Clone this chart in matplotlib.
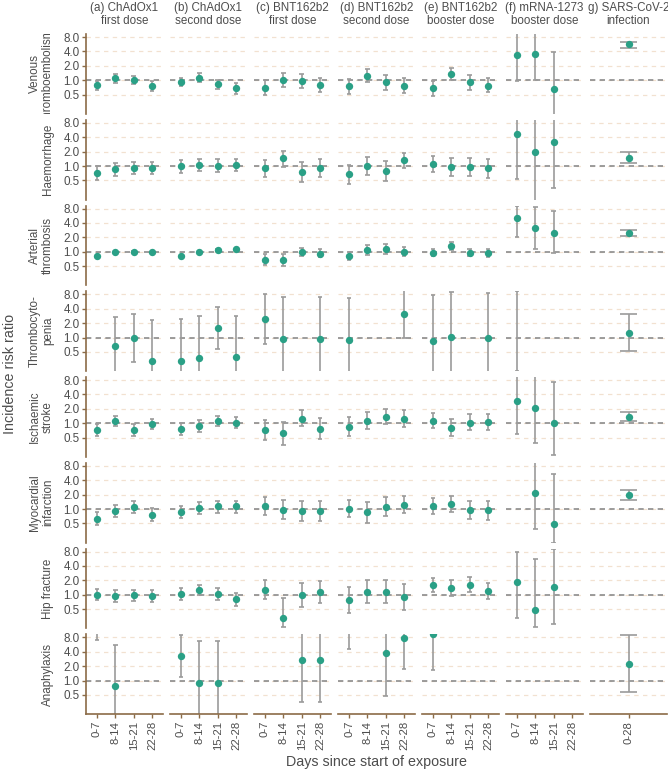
import matplotlib
matplotlib.use("Agg")
import matplotlib.pyplot as plt
import numpy as np

plt.rcParams["font.family"] = ["Liberation Sans", "DejaVu Sans"]

nan = np.nan

OUTCOMES = [
    "Venous\nthromboembolism",
    "Haemorrhage",
    "Arterial\nthrombosis",
    "Thrombocyto-\npenia",
    "Ischaemic\nstroke",
    "Myocardial\ninfarction",
    "Hip fracture",
    "Anaphylaxis",
]
EXPOSURES = [
    "(a) ChAdOx1\nfirst dose",
    "(b) ChAdOx1\nsecond dose",
    "(c) BNT162b2\nfirst dose",
    "(d) BNT162b2\nsecond dose",
    "(e) BNT162b2\nbooster dose",
    "(f) mRNA-1273\nbooster dose",
    "g) SARS-CoV-2\ninfection",
]
WINDOWS = ["0-7", "8-14", "15-21", "22-28"]
INFECTION_WINDOWS = ["0-28"]

# each list: 6 vaccine exposures x 4 windows, then infection 0-28
VTE_EST = [0.78, 1.10, 1.02, 0.76, 0.92, 1.14, 0.84, 0.69, 0.69, 1.00, 0.95, 0.78,
           0.75, 1.25, 0.91, 0.77, 0.69, 1.38, 0.91, 0.77, 3.35, 3.57, 0.66, nan, 5.6]
VTE_LO = [0.62, 0.88, 0.82, 0.60, 0.75, 0.91, 0.66, 0.52, 0.49, 0.72, 0.68, 0.56,
          0.52, 0.91, 0.64, 0.54, 0.48, 1.03, 0.64, 0.56, 0.97, 1.00, 0.15, nan, 4.76]
VTE_HI = [0.97, 1.34, 1.25, 0.95, 1.14, 1.40, 1.03, 0.88, 1.00, 1.40, 1.34, 1.14,
          1.05, 1.73, 1.29, 1.14, 0.98, 1.80, 1.29, 1.14, 20.0, 20.0, 3.9, nan, 6.4]

HAEM_EST = [0.70, 0.85, 0.89, 0.89, 0.98, 1.03, 1.02, 1.03, 0.89, 1.45, 0.75, 0.92,
            0.67, 1.00, 0.79, 1.32, 1.10, 0.97, 0.94, 0.89, 4.62, 1.97, 3.24, nan, 1.5]
HAEM_LO = [0.52, 0.63, 0.67, 0.67, 0.72, 0.77, 0.76, 0.77, 0.59, 0.97, 0.46, 0.60,
           0.42, 0.65, 0.48, 0.91, 0.75, 0.63, 0.62, 0.57, 0.53, 0.12, 0.34, nan, 1.16]
HAEM_HI = [1.00, 1.14, 1.19, 1.19, 1.31, 1.38, 1.38, 1.38, 1.36, 2.07, 1.19, 1.40,
           1.07, 1.57, 1.25, 1.90, 1.65, 1.45, 1.45, 1.40, 20.0, 20.0, 20.0, nan, 1.94]

ART_EST = [0.82, 1.00, 1.00, 0.98, 0.82, 0.98, 1.07, 1.14, 0.68, 0.67, 0.98, 0.92,
           0.82, 1.08, 1.14, 1.00, 0.95, 1.34, 0.95, 0.94, 5.1, 3.09, 2.43, nan, 2.43]
ART_LO = [0.78, 0.96, 0.96, 0.94, 0.78, 0.94, 1.03, 1.10, 0.52, 0.50, 0.80, 0.76,
          0.66, 0.86, 0.89, 0.80, 0.80, 1.10, 0.80, 0.77, 2.07, 1.14, 0.94, nan, 2.17]
ART_HI = [0.87, 1.05, 1.05, 1.02, 0.87, 1.02, 1.12, 1.19, 0.88, 0.88, 1.21, 1.14,
          1.00, 1.36, 1.43, 1.25, 1.14, 1.57, 1.14, 1.14, 9.0, 8.7, 7.0, nan, 2.9]

THROMB_EST = [nan, 0.65, 0.97, 0.33, 0.33, 0.38, 1.57, 0.39, 2.43, 0.92, nan, 0.94,
              0.89, nan, nan, 3.14, 0.86, 1.03, nan, 1.00, nan, nan, nan, nan, 1.27]
THROMB_LO = [nan, 0.05, 0.31, 0.05, 0.05, 0.05, 0.57, 0.05, 0.75, 0.05, nan, 0.05,
             0.05, nan, nan, 0.97, 0.05, 0.05, nan, 0.05, 0.2, nan, nan, nan, 0.53]
THROMB_HI = [nan, 2.67, 3.14, 2.35, 2.39, 2.76, 4.27, 2.80, 8.0, 6.9, nan, 7.0,
             6.7, nan, nan, 20.0, 7.6, 9.1, nan, 8.7, 9.25, nan, nan, nan, 3.04]

STROKE_EST = [0.72, 1.10, 0.72, 0.98, 0.75, 0.86, 1.12, 1.02, 0.72, 0.62, 1.25, 0.76,
              0.84, 1.14, 1.38, 1.23, 1.14, 0.80, 1.02, 1.05, 2.85, 2.10, 1.03, nan, 1.38]
STROKE_LO = [0.55, 0.86, 0.55, 0.76, 0.58, 0.66, 0.86, 0.79, 0.45, 0.36, 0.86, 0.47,
             0.53, 0.75, 0.95, 0.84, 0.80, 0.53, 0.71, 0.72, 0.59, 0.39, 0.22, nan, 1.14]
STROKE_HI = [0.97, 1.40, 0.97, 1.25, 1.00, 1.16, 1.45, 1.32, 1.19, 1.07, 1.87, 1.27,
             1.34, 1.73, 2.03, 1.87, 1.62, 1.25, 1.55, 1.57, 20.0, 20.0, 7.4, nan, 1.7]

MI_EST = [0.63, 0.92, 1.12, 0.76, 0.86, 1.05, 1.14, 1.14, 1.14, 0.97, 0.92, 0.92,
          1.02, 0.85, 1.12, 1.23, 1.16, 1.27, 0.95, 0.94, nan, 2.17, 0.49, nan, 1.94]
MI_LO = [0.46, 0.69, 0.84, 0.57, 0.65, 0.77, 0.84, 0.84, 0.76, 0.61, 0.57, 0.57,
         0.67, 0.51, 0.72, 0.81, 0.80, 0.87, 0.61, 0.60, nan, 0.39, 0.20, nan, 1.52]
MI_HI = [0.87, 1.23, 1.47, 1.05, 1.16, 1.38, 1.50, 1.50, 1.76, 1.57, 1.50, 1.50,
         1.57, 1.40, 1.79, 1.90, 1.73, 1.84, 1.47, 1.45, nan, 20.0, 5.43, nan, 2.47]

HIP_EST = [1.00, 0.95, 0.97, 0.95, 1.03, 1.25, 1.05, 0.80, 1.27, 0.33, 0.98, 1.14,
           0.77, 1.17, 1.17, 0.89, 1.60, 1.40, 1.60, 1.19, 1.81, 0.48, 1.47, nan, nan]
HIP_LO = [0.77, 0.71, 0.74, 0.71, 0.79, 0.98, 0.79, 0.59, 0.80, 0.21, 0.56, 0.68,
          0.42, 0.68, 0.68, 0.48, 1.16, 0.95, 1.12, 0.80, 0.33, 0.21, 0.24, nan, nan]
HIP_HI = [1.31, 1.25, 1.27, 1.25, 1.36, 1.62, 1.38, 1.08, 2.07, 0.87, 1.73, 1.94,
          1.47, 2.03, 2.03, 1.70, 2.24, 2.03, 2.30, 1.79, 8.0, 5.7, 9.0, nan, nan]

ANA_EST = [20.0, 0.76, nan, nan, 3.19, 0.89, 0.89, nan, nan, nan, 2.72, 2.72,
           20.0, nan, 3.81, 7.76, 9.4, nan, nan, nan, nan, nan, nan, nan, 2.24]
ANA_LO = [6.9, 0.05, nan, nan, 1.17, 0.05, 0.05, nan, nan, nan, 0.35, 0.36,
          4.55, nan, 0.48, 1.70, 1.62, nan, nan, nan, nan, nan, nan, nan, 0.58]
ANA_HI = [60.0, 5.6, nan, nan, 8.9, 6.7, 6.7, nan, nan, nan, 40.0, 40.0,
          60.0, nan, 40.0, 40.0, 40.0, nan, nan, nan, nan, nan, nan, nan, 8.95]

ROWS = [
    (VTE_EST, VTE_LO, VTE_HI),
    (HAEM_EST, HAEM_LO, HAEM_HI),
    (ART_EST, ART_LO, ART_HI),
    (THROMB_EST, THROMB_LO, THROMB_HI),
    (STROKE_EST, STROKE_LO, STROKE_HI),
    (MI_EST, MI_LO, MI_HI),
    (HIP_EST, HIP_LO, HIP_HI),
    (ANA_EST, ANA_LO, ANA_HI),
]

Y_TICKS = [0.5, 1.0, 2.0, 4.0, 8.0]

POINT = "#2AA086"
BAR = "#9B9B9B"
AXIS = "#8B6B47"
GRID = "#F2E1D0"
REF = "#8C8C8C"
TEXT = "#4D4D4D"

W, H = 668, 772
fig = plt.figure(figsize=(W / 100, H / 100), dpi=100)


def px_box(x0, top, w, h):
    return [x0 / W, 1 - (top + h) / H, w / W, h / H]


col_w, col_pitch, col_x0 = 77, 84, 86
row_h, row_pitch, row_y0 = 79.75, 85.75, 34

for i, (est_all, lo_all, hi_all) in enumerate(ROWS):
    top = row_y0 + i * row_pitch
    for j in range(len(EXPOSURES)):
        ax = fig.add_axes(px_box(col_x0 + j * col_pitch, top, col_w, row_h))
        if j < 6:
            cats = WINDOWS
            sl = slice(4 * j, 4 * j + 4)
        else:
            cats = INFECTION_WINDOWS
            sl = slice(24, 25)
        x = np.arange(1, len(cats) + 1)
        est = np.array(est_all[sl], dtype=float)
        lo = np.array(lo_all[sl], dtype=float)
        hi = np.array(hi_all[sl], dtype=float)

        ax.set_yscale("log")
        ax.set_ylim(0.2, 9.25)
        ax.set_xlim(0.4, len(cats) + 0.6)

        for v in Y_TICKS:
            ax.axhline(v, color=GRID, lw=0.9, ls=(0, (3.5, 3.5)), zorder=0)
        ax.axhline(1.0, color=REF, lw=1.2, ls=(0, (3.2, 2.6)), zorder=1)

        ok = ~np.isnan(lo)
        ax.vlines(x[ok], lo[ok], hi[ok], color=BAR, lw=1.2, zorder=2)
        ax.hlines(lo[ok], x[ok] - 0.125, x[ok] + 0.125, color=BAR, lw=1.2, zorder=2)
        ax.hlines(hi[ok], x[ok] - 0.125, x[ok] + 0.125, color=BAR, lw=1.2, zorder=2)
        ax.plot(x, est, "o", color=POINT, ms=5.3, mew=0, zorder=3)

        for s in ax.spines.values():
            s.set_visible(False)
        ax.minorticks_off()
        ax.set_yticks(Y_TICKS)
        ax.set_xticks(x)
        if j == 0:
            ax.spines["left"].set_visible(True)
            ax.spines["left"].set_color(AXIS)
            ax.spines["left"].set_linewidth(1.2)
            ax.set_yticklabels([f"{v:.1f}" for v in Y_TICKS])
            ax.tick_params(axis="y", length=3, color=AXIS, width=1,
                           labelsize=8.4, labelcolor=TEXT, pad=1.5)
        else:
            ax.tick_params(axis="y", left=False, labelleft=False)
        if i == len(ROWS) - 1:
            ax.spines["bottom"].set_visible(True)
            ax.spines["bottom"].set_color(AXIS)
            ax.spines["bottom"].set_linewidth(1.2)
            ax.set_xticklabels(cats, rotation=90)
            ax.tick_params(axis="x", length=3, color=AXIS, width=1,
                           labelsize=8.2, labelcolor=TEXT, pad=2)
        else:
            ax.tick_params(axis="x", bottom=False, labelbottom=False)

        if i == 0:
            fig.text((col_x0 + j * col_pitch + col_w / 2) / W, 1 - (top - 6.5) / H,
                     EXPOSURES[j], ha="center", va="bottom", fontsize=8.4,
                     color=TEXT, linespacing=1.12)

    # row strip label, clipped to the strip like the original
    strip = fig.add_axes(px_box(20, top, 34, row_h))
    strip.axis("off")
    strip.text(1.0, 0.5, OUTCOMES[i], transform=strip.transAxes, rotation=90,
               ha="right", va="center", multialignment="center", fontsize=8.4,
               color=TEXT, linespacing=1.12, clip_on=True)

fig.text(10 / W, 1 - 374 / H, "Incidence risk ratio", rotation=90,
         ha="center", va="center", fontsize=10.3, color=TEXT)
fig.text(376.5 / W, 1 - 762 / H, "Days since start of exposure",
         ha="center", va="center", fontsize=10.3, color=TEXT)

fig.savefig("out.png", dpi=100)
